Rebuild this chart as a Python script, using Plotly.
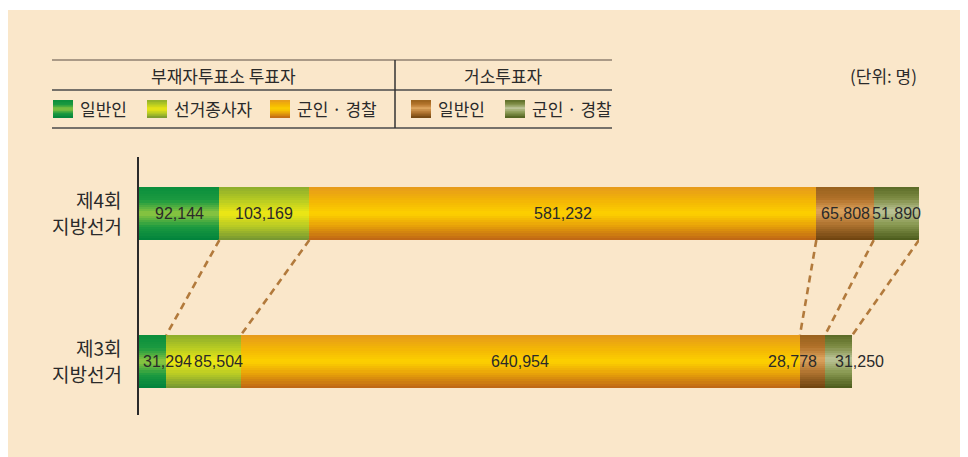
import plotly.graph_objects as go

# ---------------- data ----------------
categories = ["제4회 지방선거", "제3회 지방선거"]
label_line1 = ["제4회", "제3회"]
label_line2 = ["지방선거", "지방선거"]
series_names = ["부재자 일반인", "부재자 선거종사자", "부재자 군인·경찰", "거소 일반인", "거소 군인·경찰"]
values_4th = [92144, 103169, 581232, 65808, 51890]
values_3rd = [31294, 85504, 640954, 28778, 31250]
header_groups = ["부재자투표소 투표자", "거소투표자"]
legend_labels = ["일반인", "선거종사자", "군인 · 경찰", "일반인", "군인 · 경찰"]
unit_label = "(단위: 명)"

# ---------------- style ----------------
W, H = 968, 457
OFF = 8  # page body margin offset
PL, PR, PT, PB = 139 - OFF, 919 - OFF, 157 - OFF, 415 - OFF
BEIGE = "#fae7ca"
TXT = "#2a2a2a"
KFONT = "Noto Sans CJK KR"
NFONT = "Liberation Sans"
BAR_W = 0.358
M = 24

# gradient stops from bottom (0) to top (1)
grads = [
    [(0, "#00823c"), (0.25, "#1c9a40"), (0.5, "#8cc640"), (0.75, "#1c9a40"), (1, "#0a8e3c")],
    [(0, "#729432"), (0.25, "#b4c826"), (0.5, "#eee814"), (0.75, "#b8cc22"), (1, "#8cac2c")],
    [(0, "#bd6416"), (0.3, "#eba808"), (0.5, "#fdd000"), (0.72, "#f4b804"), (1, "#e69a1c")],
    [(0, "#6c420e"), (0.3, "#b07430"), (0.55, "#dca45e"), (0.78, "#b07028"), (1, "#98621e")],
    [(0, "#4a5a1a"), (0.3, "#8a9a52"), (0.55, "#bcc498"), (0.78, "#7e8c44"), (1, "#5a6a26")],
]


def hex2rgb(h):
    h = h.lstrip("#")
    return tuple(int(h[i:i + 2], 16) for i in (0, 2, 4))


def grad_color(stops, t):
    for (t0, c0), (t1, c1) in zip(stops[:-1], stops[1:]):
        if t <= t1:
            f = 0 if t1 == t0 else (t - t0) / (t1 - t0)
            a, b = hex2rgb(c0), hex2rgb(c1)
            return "rgb(%d,%d,%d)" % tuple(round(a[k] + (b[k] - a[k]) * f) for k in range(3))
    return stops[-1][1]


def cum_starts(vals):
    s, out = 0, []
    for v in vals:
        out.append(s)
        s += v
    return out


starts_4th = cum_starts(values_4th)
starts_3rd = cum_starts(values_3rd)
ends_4th = [s + v for s, v in zip(starts_4th, values_4th)]
ends_3rd = [s + v for s, v in zip(starts_3rd, values_3rd)]
total_max = max(ends_4th[-1], ends_3rd[-1])


# helpers converting page pixel positions to paper coords
def xp(px):
    return (px - OFF - PL) / (PR - PL)


def yp(py):
    return (PB - (py - OFF)) / (PB - PT)


fig = go.Figure()

for j, name in enumerate(series_names):
    for i in range(M):
        off = -BAR_W / 2 + i * BAR_W / M
        wid = BAR_W - i * BAR_W / M
        fig.add_trace(go.Bar(
            orientation="h",
            y=categories,
            x=[values_4th[j], values_3rd[j]],
            base=[starts_4th[j], starts_3rd[j]],
            width=wid,
            offset=off,
            marker=dict(color=grad_color(grads[j], (i + 0.5) / M), line=dict(width=0)),
            name=name,
            showlegend=False,
            hoverinfo="skip",
        ))

shapes = []
# beige panel
shapes.append(dict(type="rect", xref="paper", yref="paper", x0=xp(7), x1=xp(990), y0=yp(480), y1=yp(10),
                   fillcolor=BEIGE, line=dict(width=0), layer="below"))
# header table lines
shapes.append(dict(type="line", xref="paper", yref="paper", x0=xp(52), x1=xp(612), y0=yp(60), y1=yp(60),
                   line=dict(color="#8f8170", width=1.5)))
for py in (90, 128):
    shapes.append(dict(type="line", xref="paper", yref="paper", x0=xp(52), x1=xp(612), y0=yp(py), y1=yp(py),
                       line=dict(color="#4a4a4a", width=1.5)))
shapes.append(dict(type="line", xref="paper", yref="paper", x0=xp(395), x1=xp(395), y0=yp(60), y1=yp(128),
                   line=dict(color="#333333", width=1.5)))

# legend swatches with gradients
sw_x = [53, 147, 270, 411, 505]
sw_top, sw_bot = 100, 118
SM = 10
for j, sx in enumerate(sw_x):
    for i in range(SM):
        y0 = sw_bot - i * (sw_bot - sw_top) / SM
        shapes.append(dict(type="rect", xref="paper", yref="paper", x0=xp(sx), x1=xp(sx + 20),
                           y0=yp(y0), y1=yp(sw_top),
                           fillcolor=grad_color(grads[j], (i + 0.5) / SM), line=dict(width=0)))

# dashed connectors between segment ends
for j in range(len(series_names)):
    shapes.append(dict(type="line", xref="x", yref="y",
                       x0=ends_4th[j], y0=1 - BAR_W / 2, x1=ends_3rd[j], y1=BAR_W / 2,
                       line=dict(color="#b27a3c", width=2.6, dash="7px,5px")))

annotations = []
# category labels (two lines each)
for k, cat in enumerate(categories):
    annotations.append(dict(text=label_line1[k], xref="paper", yref="y", x=xp(124), y=cat, yshift=14,
                            xanchor="right", yanchor="middle", showarrow=False,
                            font=dict(family=KFONT, size=19, color=TXT)))
    annotations.append(dict(text=label_line2[k], xref="paper", yref="y", x=xp(124), y=cat, yshift=-12,
                            xanchor="right", yanchor="middle", showarrow=False,
                            font=dict(family=KFONT, size=19, color=TXT)))
# header group titles
annotations.append(dict(text=header_groups[0], xref="paper", yref="paper", x=xp(223.5), y=yp(75),
                        xanchor="center", yanchor="middle", showarrow=False,
                        font=dict(family=KFONT, size=17, color=TXT)))
annotations.append(dict(text=header_groups[1], xref="paper", yref="paper", x=xp(503.5), y=yp(75),
                        xanchor="center", yanchor="middle", showarrow=False,
                        font=dict(family=KFONT, size=17, color=TXT)))
annotations.append(dict(text=unit_label, xref="paper", yref="paper", x=xp(919), y=yp(75),
                        xanchor="right", yanchor="middle", showarrow=False,
                        font=dict(family=KFONT, size=17, color=TXT)))
legend_text_x = [78, 172, 295, 436, 530]
for lbl, lx in zip(legend_labels, legend_text_x):
    annotations.append(dict(text=lbl, xref="paper", yref="paper", x=xp(lx), y=yp(109),
                            xanchor="left", yanchor="middle", showarrow=False,
                            font=dict(family=KFONT, size=17, color=TXT)))

# value labels
for j in range(len(series_names)):
    annotations.append(dict(text=f"{values_4th[j]:,}", xref="x", yref="y",
                            x=starts_4th[j] + values_4th[j] / 2, y=categories[0],
                            xanchor="center", yanchor="middle", showarrow=False,
                            font=dict(family=NFONT, size=16, color=TXT)))
bottom_anchor = [("left", 0, 2), ("right", 1, 4), ("center", 0.5, 0), ("right", 1, -6), ("left", 0, 8)]
for j in range(len(series_names)):
    anc, frac, sh = bottom_anchor[j]
    annotations.append(dict(text=f"{values_3rd[j]:,}", xref="x", yref="y",
                            x=starts_3rd[j] + values_3rd[j] * frac, y=categories[1], xshift=sh,
                            xanchor=anc, yanchor="middle", showarrow=False,
                            font=dict(family=NFONT, size=16, color=TXT)))

fig.update_layout(
    width=W, height=H,
    margin=dict(l=PL, r=W - PR, t=PT, b=H - PB, pad=0),
    paper_bgcolor="white",
    plot_bgcolor="rgba(0,0,0,0)",
    barmode="overlay",
    bargap=0,
    shapes=shapes,
    annotations=annotations,
    showlegend=False,
    xaxis=dict(range=[0, total_max], visible=False, fixedrange=True),
    yaxis=dict(
        type="category",
        categoryorder="array",
        categoryarray=[categories[1], categories[0]],
        range=[-0.361, 1.382],
        showticklabels=False, ticks="",
        showline=True, linecolor="#2a2a2a", linewidth=1.5,
        showgrid=False, zeroline=False, fixedrange=True,
    ),
)

fig.write_html("out.html")
